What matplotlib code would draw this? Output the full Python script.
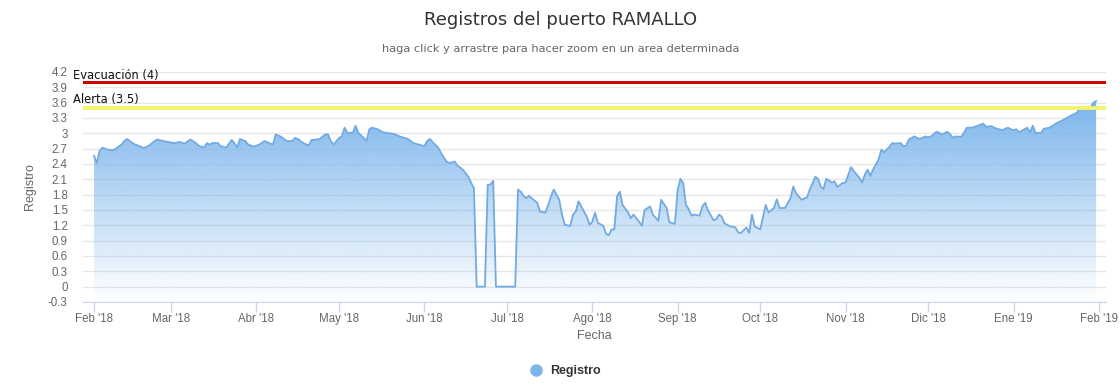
import numpy as np
import matplotlib
matplotlib.use("Agg")
import matplotlib.pyplot as plt
import matplotlib.dates as mdates
from matplotlib.lines import Line2D

# readings, day offsets from 2018-02-01
start = np.datetime64("2018-02-01")
days = [0, 1, 2, 3, 5, 7, 8, 10, 11, 12, 14, 15, 17, 18, 20, 22, 23, 25, 27, 29,
        31, 33, 35, 37, 38, 40, 41, 42, 43, 45, 46, 48, 50,
        51, 52, 53, 55, 56, 58, 60, 62, 64, 65, 66, 68, 70, 72, 73, 74, 76, 78,
        79, 81, 82, 84, 85, 86, 87, 89, 90, 91, 92, 94, 95, 96, 98, 99, 100, 101, 103,
        105, 106, 109, 111, 114, 116, 118, 120, 121, 122, 123, 125, 126, 128, 129,
        130, 131, 132, 134, 135, 136, 137, 138, 139, 142, 143, 144, 145, 146, 153,
        154, 155, 156,
        157, 158, 159, 161, 162, 164, 165, 166, 167, 169, 170, 171, 173, 174, 175,
        176, 178, 179, 180, 181, 182, 183, 185, 186, 187, 188, 189, 190, 191, 192,
        194, 195, 196, 198, 199, 200, 202, 203, 205, 206, 208, 209,
        211, 212, 213, 214, 215, 216, 217, 218, 220, 221, 222, 223, 225, 226, 227,
        228, 229, 231, 233, 234, 235, 237, 238, 239, 240, 242, 244, 245, 247, 248,
        249, 251, 253, 254, 255, 257, 259, 260, 262,
        263, 264, 265, 266, 268, 269, 270, 272, 273, 275, 276, 278, 279, 280, 281,
        282, 283, 285, 286, 287, 289, 290, 291, 293, 294, 295, 296, 298, 299, 300,
        302, 303, 304, 306, 307, 308, 310, 311, 312, 313, 315,
        316, 317, 319, 320, 322, 323, 324, 326, 327, 328, 330, 331, 332, 333, 334,
        335, 336, 338, 339, 340, 341, 342, 343, 344, 345, 347, 348, 350, 352, 354,
        355, 357, 358, 360, 362, 363, 364]
registro = [2.56, 2.42, 2.65, 2.72, 2.68, 2.67, 2.70, 2.78, 2.85, 2.89, 2.81, 2.78, 2.74, 2.71, 2.76, 2.85, 2.88, 2.85, 2.83, 2.81,
            2.83, 2.80, 2.88, 2.81, 2.76, 2.72, 2.81, 2.78, 2.81, 2.81, 2.75, 2.72, 2.87,
            2.81, 2.72, 2.89, 2.85, 2.78, 2.74, 2.78, 2.85, 2.80, 2.78, 2.98, 2.93, 2.85, 2.85, 2.91, 2.89, 2.81, 2.76,
            2.87, 2.88, 2.89, 2.98, 2.98, 2.85, 2.78, 2.91, 2.94, 3.11, 3.01, 3.01, 3.15, 3.01, 2.91, 2.85, 3.08, 3.11, 3.08,
            3.02, 3.01, 2.99, 2.94, 2.89, 2.81, 2.78, 2.75, 2.85, 2.89, 2.83, 2.72, 2.62, 2.45, 2.42,
            2.43, 2.45, 2.37, 2.29, 2.22, 2.15, 2.03, 1.93, 0.0, 0.0, 1.99, 2.00, 2.07, 0.0, 0.0,
            1.90, 1.86, 1.78,
            1.73, 1.78, 1.73, 1.64, 1.47, 1.45, 1.60, 1.77, 1.90, 1.70, 1.41, 1.21, 1.19, 1.41, 1.47,
            1.67, 1.47, 1.37, 1.21, 1.27, 1.45, 1.25, 1.19, 1.03, 1.01, 1.12, 1.12, 1.77, 1.86, 1.60,
            1.45, 1.34, 1.41, 1.27, 1.19, 1.50, 1.57, 1.41, 1.29, 1.70, 1.54, 1.26,
            1.23, 1.90, 2.11, 2.03, 1.60, 1.52, 1.39, 1.41, 1.39, 1.57, 1.64, 1.50, 1.30, 1.32, 1.41,
            1.37, 1.24, 1.18, 1.16, 1.06, 1.05, 1.16, 1.05, 1.41, 1.18, 1.12, 1.60, 1.45, 1.54, 1.71,
            1.54, 1.54, 1.73, 1.96, 1.83, 1.70, 1.75, 1.90, 2.15,
            2.11, 1.96, 1.91, 2.11, 2.04, 2.06, 1.95, 2.03, 2.04, 2.34, 2.26, 2.13, 2.04, 2.19, 2.29,
            2.17, 2.29, 2.49, 2.68, 2.63, 2.74, 2.81, 2.80, 2.81, 2.75, 2.76, 2.88, 2.94, 2.91, 2.89,
            2.94, 2.92, 2.94, 3.03, 3.01, 2.98, 3.03, 2.98, 2.91, 2.94, 2.93,
            3.01, 3.11, 3.11, 3.13, 3.17, 3.19, 3.13, 3.14, 3.11, 3.09, 3.06, 3.09, 3.11, 3.08, 3.06,
            3.08, 3.02, 3.08, 3.11, 3.02, 3.15, 3.01, 3.01, 3.01, 3.09, 3.11, 3.14, 3.21, 3.26, 3.32,
            3.35, 3.40, 3.48, 3.50, 3.50, 3.60, 3.63]

month_ticks = ["2018-02-01", "2018-03-01", "2018-04-01", "2018-05-01", "2018-06-01", "2018-07-01",
               "2018-08-01", "2018-09-01", "2018-10-01", "2018-11-01", "2018-12-01", "2019-01-01",
               "2019-02-01"]
month_labels = ["Feb '18", "Mar '18", "Abr '18", "May '18", "Jun '18", "Jul '18", "Ago '18",
                "Sep '18", "Oct '18", "Nov '18", "Dic '18", "Ene '19", "Feb '19"]
y_ticks = [-0.3, 0, 0.3, 0.6, 0.9, 1.2, 1.5, 1.8, 2.1, 2.4, 2.7, 3, 3.3, 3.6, 3.9, 4.2]

nivel_evacuacion = 4.0
nivel_alerta = 3.5

W, H = 1120, 389
fig = plt.figure(figsize=(W / 100, H / 100), dpi=100)
ax = fig.add_axes([83 / W, (H - 302) / H, (1106 - 83) / W, (302 - 72) / H])

dates = start + np.array(days).astype("timedelta64[D]")
xnum = mdates.date2num(dates)
vals = np.array(registro)
ymin, ymax = -0.3, 4.2

# gradient area
base = np.array([124, 181, 236]) / 255.0
poly = ax.fill_between(xnum, vals, ymin, color="none", lw=0)
grad = np.zeros((256, 1, 4))
grad[:, 0, :3] = base
grad[:, 0, 3] = np.linspace(0, 1, 256)
img = ax.imshow(grad, extent=[xnum.min(), xnum.max(), ymin, vals.max()],
                aspect="auto", origin="lower", zorder=1, interpolation="bicubic")
img.set_clip_path(poly.get_paths()[0], ax.transData)
ax.plot(xnum, vals, color="#72abe2", lw=1.3, zorder=3)

# plot lines
ax.axhline(nivel_evacuacion, color="#d00000", lw=2.2, zorder=4)
ax.axhline(nivel_alerta, color="#f3f36c", lw=2.8, zorder=4)
fig.text(73 / W, 1 - 75 / H, "Evacuación (4)", fontsize=8.3, color="#111111",
         va="center", ha="left", family="DejaVu Sans")
fig.text(73 / W, 1 - 100 / H, "Alerta (3.5)", fontsize=8.3, color="#111111",
         va="center", ha="left", family="DejaVu Sans")

ax.set_xlim(mdates.date2num(start) - 4.0, mdates.date2num(start) + 367.6)
ax.set_ylim(ymin, ymax)

ax.set_xticks(mdates.date2num(np.array(month_ticks, dtype="datetime64[D]")))
ax.set_xticklabels(month_labels)
ax.set_yticks(y_ticks)
ax.set_yticklabels(["%g" % v for v in y_ticks])
ax.tick_params(axis="x", length=7, width=1, color="#ccd6eb", pad=1,
               labelsize=8.3, labelcolor="#666666")
ax.tick_params(axis="y", length=0, pad=11, labelsize=8.3, labelcolor="#666666")
for lab in ax.get_xticklabels() + ax.get_yticklabels():
    lab.set_family("Liberation Sans")

ax.grid(axis="y", color="#e6e6e6", lw=1, zorder=0)
ax.set_axisbelow(True)
for s in ["top", "right", "left"]:
    ax.spines[s].set_visible(False)
ax.spines["bottom"].set_color("#ccd6eb")
ax.spines["bottom"].set_zorder(5)

fig.text(594 / W, 1 - 336 / H, "Fecha", fontsize=9, color="#666666",
         ha="center", va="center", family="Liberation Sans")
fig.text(30 / W, 1 - 187 / H, "Registro", fontsize=9, color="#666666",
         ha="center", va="center", rotation=90, family="Liberation Sans")

fig.text(561 / W, 1 - 20 / H, "Registros del puerto RAMALLO", fontsize=13,
         color="#333333", ha="center", va="center", family="DejaVu Sans")
fig.text(561 / W, 1 - 49 / H, "haga click y arrastre para hacer zoom en un area determinada",
         fontsize=8.2, color="#666666", ha="center", va="center", family="DejaVu Sans")

handle = Line2D([], [], marker="o", ls="none", color="#7cb5ec", markersize=8)
ax.legend([handle], ["Registro"], loc="center", bbox_to_anchor=(562 / W, 1 - 371 / H),
          bbox_transform=fig.transFigure, frameon=False, handletextpad=0.1,
          prop={"family": "Liberation Sans", "weight": "bold", "size": 9}, labelcolor="#333333")

fig.savefig("out.png", dpi=100)
